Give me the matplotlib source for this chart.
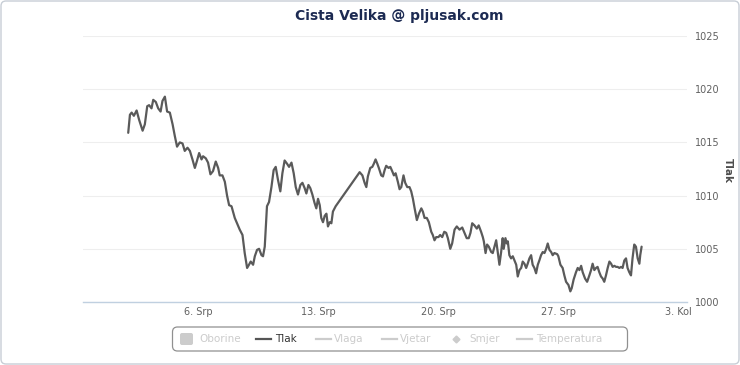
import matplotlib
matplotlib.use('Agg')
import matplotlib.pyplot as plt
from matplotlib.patches import FancyBboxPatch
from matplotlib.lines import Line2D
from matplotlib.transforms import IdentityTransform

# ---- data: day of July (fractional) and pressure (hPa) ----
days = [1.88, 1.98, 2.08, 2.21, 2.37, 2.52, 2.72, 2.85, 2.99, 3.10, 3.24, 3.34, 3.49, 3.63, 3.77,
        3.88, 4.02, 4.15, 4.31, 4.47, 4.60, 4.73, 4.89, 5.05, 5.18, 5.34, 5.48, 5.63, 5.77, 5.90,
        6.02, 6.16, 6.25, 6.41, 6.54, 6.68, 6.83, 6.99, 7.13, 7.22, 7.38, 7.52, 7.65, 7.77, 7.91,
        8.10, 8.23, 8.39, 8.55, 8.68, 8.82, 8.93, 9.03, 9.17, 9.27, 9.40, 9.52, 9.66, 9.75, 9.85,
        9.98, 10.10, 10.24, 10.37, 10.49, 10.62, 10.76, 10.88, 11.01, 11.15, 11.27, 11.41, 11.54,
        11.66, 11.79, 11.93, 12.05, 12.18, 12.28, 12.40, 12.51, 12.63, 12.76, 12.86, 12.96, 13.06,
        13.15, 13.25, 13.35, 13.45, 13.54, 13.64, 13.74, 13.83, 13.99, 15.39,
        15.55, 15.68, 15.78, 15.87, 16.01, 16.13, 16.22, 16.32, 16.42, 16.51, 16.65, 16.75, 16.85,
        16.94, 17.08, 17.18, 17.29, 17.39, 17.49, 17.62, 17.72, 17.82, 17.95, 18.05, 18.17, 18.30,
        18.40, 18.50, 18.60, 18.73, 18.85, 18.99, 19.08, 19.18, 19.31, 19.43, 19.57, 19.66, 19.76,
        19.86, 19.99, 20.09, 20.21, 20.33, 20.44, 20.54, 20.68, 20.79, 20.93,
        21.06, 21.22, 21.38, 21.51, 21.64, 21.76, 21.86, 21.96, 22.09, 22.23, 22.34, 22.48, 22.58,
        22.64, 22.74, 22.83, 22.93, 23.07, 23.16, 23.26, 23.36, 23.45, 23.55, 23.65, 23.74, 23.80,
        23.90, 23.98, 24.04, 24.13, 24.23, 24.33, 24.43, 24.53, 24.62, 24.72, 24.82, 24.91, 25.01,
        25.11, 25.20, 25.30, 25.40, 25.49, 25.59, 25.69, 25.79, 25.88, 25.98, 26.08, 26.18, 26.28,
        26.37, 26.47, 26.57, 26.66, 26.76,
        26.92, 26.99, 27.11, 27.24, 27.34, 27.44, 27.58, 27.69, 27.77, 27.88, 28.02, 28.12, 28.22,
        28.32, 28.41, 28.55, 28.67, 28.80, 28.90, 28.99, 29.09, 29.19, 29.28, 29.38, 29.48, 29.58,
        29.67, 29.77, 29.87, 29.97, 30.07, 30.16, 30.26, 30.36, 30.45, 30.55, 30.65, 30.74, 30.84,
        30.94, 31.03, 31.13, 31.23, 31.32, 31.42, 31.52, 31.62, 31.72, 31.77, 31.85]

pressure = [1015.9, 1017.6, 1017.8, 1017.5, 1018.0, 1017.1, 1016.1, 1016.7, 1018.4, 1018.5,
            1018.2, 1019.0, 1018.8, 1018.2, 1017.9, 1018.9, 1019.3, 1017.9, 1017.8, 1016.7,
            1015.6, 1014.6, 1015.0, 1014.9, 1014.2, 1014.5, 1014.2, 1013.4, 1012.6, 1013.3,
            1014.0, 1013.4, 1013.7, 1013.5, 1013.1, 1012.0, 1012.3, 1013.2, 1012.6, 1011.9,
            1011.9, 1011.3, 1010.0, 1009.1, 1009.0,
            1007.9, 1007.4, 1006.8, 1006.3, 1004.6, 1003.2, 1003.5, 1003.8, 1003.5, 1004.3,
            1004.9, 1005.0, 1004.4, 1004.3, 1005.2, 1009.0, 1009.4, 1010.8, 1012.4, 1012.7,
            1011.5, 1010.4, 1012.1, 1013.3, 1013.0, 1012.7, 1013.1, 1012.1, 1010.8, 1010.1,
            1011.0, 1011.2, 1010.7, 1010.2, 1011.0, 1010.7, 1010.1, 1009.3, 1008.8, 1009.7,
            1009.1, 1007.9, 1007.5, 1008.1, 1008.3, 1007.1, 1007.5, 1007.4, 1008.5, 1009.0,
            1012.2,
            1011.9, 1011.2, 1010.8, 1011.8, 1012.6, 1012.7, 1013.0, 1013.4, 1013.0, 1012.6,
            1011.9, 1011.8, 1012.4, 1012.8, 1012.6, 1012.7, 1012.3, 1011.9, 1012.1, 1011.3,
            1010.6, 1010.8, 1011.9, 1011.2, 1010.8, 1010.8, 1010.4, 1009.7, 1008.8, 1007.7,
            1008.3, 1008.8, 1008.5, 1007.9, 1007.9, 1007.5, 1006.6, 1006.3, 1005.8, 1006.1,
            1006.1, 1006.3, 1006.1, 1006.6, 1006.5, 1006.0, 1005.0, 1005.5, 1006.8,
            1007.1, 1006.8, 1007.0, 1006.5, 1006.0, 1006.0, 1006.5, 1007.4, 1007.2, 1006.9,
            1007.2, 1006.6, 1006.1, 1005.7, 1004.6, 1005.4, 1005.2, 1004.7, 1004.6, 1005.2,
            1005.8, 1004.7, 1003.5, 1004.7, 1006.0, 1005.0, 1006.0, 1005.5, 1005.7, 1004.4,
            1004.1, 1004.3, 1003.9, 1003.5, 1002.4, 1003.0, 1003.2, 1003.8, 1003.6, 1003.2,
            1003.6, 1004.1, 1004.4, 1003.5, 1003.2, 1002.7, 1003.5, 1003.9, 1004.4, 1004.7,
            1004.6, 1005.0, 1005.5, 1004.9, 1004.7, 1004.4, 1004.6,
            1004.5, 1004.3, 1003.5, 1003.2, 1002.5, 1001.9, 1001.6, 1001.0, 1001.3, 1002.1,
            1002.8, 1003.2, 1003.0, 1003.4, 1002.8, 1002.2, 1001.9, 1002.5, 1003.0, 1003.6,
            1003.0, 1003.2, 1003.3, 1002.8, 1002.4, 1002.2, 1001.9, 1002.5, 1003.2, 1003.8,
            1003.6, 1003.3, 1003.4, 1003.3, 1003.3, 1003.2, 1003.3, 1003.2, 1003.9, 1004.1,
            1003.2, 1002.8, 1002.5, 1004.1, 1005.4, 1005.2, 1004.1, 1003.6, 1004.4, 1005.2]

tick_days = [6, 13, 20, 27, 34]
tick_labels = ['6. Srp', '13. Srp', '20. Srp', '27. Srp', '3. Kol']
y_ticks = [1000, 1005, 1010, 1015, 1020, 1025]
legend_names = ['Oborine', 'Tlak', 'Vlaga', 'Vjetar', 'Smjer', 'Temperatura']
title = 'Cista Velika @ pljusak.com'

W, H = 740, 365
fig = plt.figure(figsize=(W / 100, H / 100), dpi=100)
fig.patch.set_facecolor('white')


def fx(x):
    return x / W


def fy(y):
    return 1 - y / H


ax = fig.add_axes([fx(83), fy(302), (687 - 83) / W, (302 - 36) / H])
ax.plot(days, pressure, color='#5a5a5a', lw=1.6, solid_joinstyle='round',
        solid_capstyle='round', zorder=3)
ax.set_xlim(-0.76, 34.5)
ax.set_ylim(1000, 1025)
ax.set_yticks(y_ticks)
ax.yaxis.tick_right()
ax.grid(axis='y', color='#eeeeee', lw=0.8)
ax.set_axisbelow(True)
for s in ['top', 'left', 'right']:
    ax.spines[s].set_visible(False)
ax.spines['bottom'].set_color('#c0d0e0')
ax.spines['bottom'].set_linewidth(1.0)
ax.tick_params(axis='y', length=0, pad=6, labelsize=7, labelcolor='#606060')
ax.set_xticks(tick_days)
ax.set_xticklabels(tick_labels)
ax.tick_params(axis='x', length=0, pad=3.5, labelsize=7, labelcolor='#606060')

fig.text(fx(728), fy(170), 'Tlak', rotation=-90, fontweight='bold', color='#4d4d4d',
         fontsize=7.5, ha='center', va='center')
fig.text(fx(399), fy(16), title, fontsize=10, fontweight='bold', color='#1c2a52',
         ha='center', va='center')

# outer border
tr = IdentityTransform()
border = FancyBboxPatch((1, 1), W - 2, H - 2, boxstyle='round,pad=0,rounding_size=5',
                        transform=tr, facecolor='none', edgecolor='#c8ced6', lw=1.0)
fig.patches.append(border)

# legend box (pixel coords, display origin bottom-left)
lb = FancyBboxPatch((172.5, H - 351), 455, 24, boxstyle='round,pad=0,rounding_size=5',
                    transform=tr, facecolor='white', edgecolor='#909090', lw=0.9)
fig.patches.append(lb)
ly = fy(339)
hidden = '#cccccc'
# Oborine square
sq = FancyBboxPatch((180, H - 345), 13, 12, boxstyle='round,pad=0,rounding_size=2',
                    transform=tr, facecolor=hidden, edgecolor='none')
fig.patches.append(sq)
fig.text(fx(199), ly, legend_names[0], fontsize=7.5, color=hidden, va='center')
# Tlak
fig.add_artist(Line2D([fx(256), fx(271)], [ly, ly], color='#555555', lw=1.6))
fig.text(fx(275), ly, legend_names[1], fontsize=7.5, color='#333333', va='center')
# Vlaga
fig.add_artist(Line2D([fx(316), fx(331)], [ly, ly], color=hidden, lw=1.6))
fig.text(fx(334), ly, legend_names[2], fontsize=7.5, color=hidden, va='center')
# Vjetar
fig.add_artist(Line2D([fx(382), fx(397)], [ly, ly], color=hidden, lw=1.6))
fig.text(fx(400), ly, legend_names[3], fontsize=7.5, color=hidden, va='center')
# Smjer
fig.add_artist(Line2D([fx(456)], [ly], color=hidden, marker='D', markersize=3.5, lw=0))
fig.text(fx(469), ly, legend_names[4], fontsize=7.5, color=hidden, va='center')
# Temperatura
fig.add_artist(Line2D([fx(517), fx(532)], [ly, ly], color=hidden, lw=1.6))
fig.text(fx(536), ly, legend_names[5], fontsize=7.5, color=hidden, va='center')

fig.savefig('out.png', dpi=100, facecolor='white')
